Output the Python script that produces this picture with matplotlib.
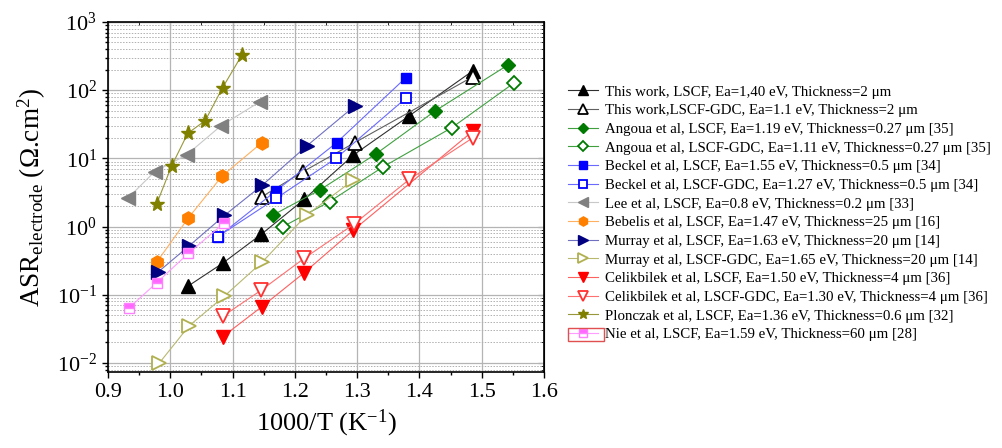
import numpy as np
import matplotlib.pyplot as plt
from matplotlib.ticker import LogLocator, MultipleLocator, NullFormatter
from matplotlib.patches import Rectangle

plt.rcParams['font.family'] = ['Liberation Serif', 'DejaVu Serif']
plt.rcParams['mathtext.fontset'] = 'custom'
plt.rcParams['mathtext.rm'] = 'Liberation Serif'
plt.rcParams['mathtext.it'] = 'Liberation Serif:italic'

# --- data (x = 1000/T in K^-1, y = ASR in ohm.cm2) ---
tw_lscf_x = [1.029, 1.084, 1.146, 1.215, 1.294, 1.384, 1.486]
tw_lscf_y = [0.135, 0.29, 0.77, 2.51, 11.2, 42.3, 193]
tw_gdc_x = [1.147, 1.213, 1.296, 1.486]
tw_gdc_y = [2.74, 6.38, 17.0, 158]
ang_lscf_x = [1.165, 1.240, 1.330, 1.425, 1.542]
ang_lscf_y = [1.48, 3.44, 11.6, 49.5, 234]
ang_gdc_x = [1.181, 1.256, 1.342, 1.452, 1.551]
ang_gdc_y = [1.0, 2.33, 7.55, 28.2, 126]
bec_lscf_x = [1.076, 1.170, 1.267, 1.378]
bec_lscf_y = [0.70, 3.36, 17.0, 152]
bec_gdc_x = [1.076, 1.170, 1.266, 1.378]
bec_gdc_y = [0.71, 2.60, 10.0, 76]
lee_x = [0.932, 0.975, 1.026, 1.081, 1.144]
lee_y = [2.62, 6.4, 11.2, 29.9, 67.8]
beb_x = [0.978, 1.029, 1.083, 1.147]
beb_y = [0.30, 1.34, 5.5, 17.0]
mur_lscf_x = [0.981, 1.030, 1.087, 1.148, 1.219, 1.296]
mur_lscf_y = [0.218, 0.52, 1.46, 4.07, 15.2, 58.6]
mur_gdc_x = [0.982, 1.030, 1.087, 1.148, 1.219, 1.294]
mur_gdc_y = [0.0099, 0.035, 0.096, 0.305, 1.48, 4.82]
cel_lscf_x = [1.084, 1.147, 1.215, 1.294, 1.486]
cel_lscf_y = [0.0243, 0.067, 0.211, 0.89, 25.2]
cel_gdc_x = [1.085, 1.146, 1.215, 1.295, 1.384, 1.486]
cel_gdc_y = [0.049, 0.117, 0.343, 1.09, 4.94, 20.1]
plo_x = [0.978, 1.002, 1.028, 1.056, 1.084, 1.115]
plo_y = [2.14, 7.7, 23.3, 35.7, 109, 328]
nie_x = [0.933, 0.978, 1.029, 1.086]
nie_y = [0.0634, 0.150, 0.405, 1.12]

labels = [
    'This work, LSCF, Ea=1,40 eV, Thickness=2 μm',
    'This work,LSCF-GDC, Ea=1.1 eV, Thickness=2 μm',
    'Angoua et al, LSCF, Ea=1.19 eV, Thickness=0.27 μm [35]',
    'Angoua et al, LSCF-GDC, Ea=1.11 eV, Thickness=0.27 μm [35]',
    'Beckel et al, LSCF, Ea=1.55 eV, Thickness=0.5 μm [34]',
    'Beckel et al, LSCF-GDC, Ea=1.27 eV, Thickness=0.5 μm [34]',
    'Lee et al, LSCF, Ea=0.8 eV, Thickness=0.2 μm [33]',
    'Bebelis et al, LSCF, Ea=1.47 eV, Thickness=25 μm [16]',
    'Murray et al, LSCF, Ea=1.63 eV, Thickness=20 μm [14]',
    'Murray et al, LSCF-GDC, Ea=1.65 eV, Thickness=20 μm [14]',
    'Celikbilek et al, LSCF, Ea=1.50 eV, Thickness=4 μm [36]',
    'Celikbilek et al, LSCF-GDC, Ea=1.30 eV, Thickness=4 μm [36]',
    'Plonczak et al, LSCF, Ea=1.36 eV, Thickness=0.6 μm [32]',
    'Nie et al, LSCF, Ea=1.59 eV, Thickness=60 μm [28]',
]

xs = [tw_lscf_x, tw_gdc_x, ang_lscf_x, ang_gdc_x, bec_lscf_x, bec_gdc_x, lee_x,
      beb_x, mur_lscf_x, mur_gdc_x, cel_lscf_x, cel_gdc_x, plo_x, nie_x]
ys = [tw_lscf_y, tw_gdc_y, ang_lscf_y, ang_gdc_y, bec_lscf_y, bec_gdc_y, lee_y,
      beb_y, mur_lscf_y, mur_gdc_y, cel_lscf_y, cel_gdc_y, plo_y, nie_y]

# marker, marker colour, filled?, line colour, marker size
styles = [
    ('^', '#000000', True, '#303030', 9.5),
    ('^', '#000000', False, '#606060', 9.5),
    ('D', '#007a00', True, '#40a040', 7.5),
    ('D', '#007a00', False, '#40a040', 7.5),
    ('s', '#0000ff', True, '#6a6aff', 7.5),
    ('s', '#0000ff', False, '#6a6aff', 7.5),
    ('<', '#808080', True, '#c8c8c8', 9.5),
    ('h', '#ff8000', True, '#ffb060', 9.5),
    ('>', '#000080', True, '#7070c0', 9.5),
    ('>', '#b0b050', False, '#b8b870', 9.5),
    ('v', '#ff0000', True, '#ff6060', 9.5),
    ('v', '#ff3030', False, '#ff7070', 9.5),
    ('*', '#808000', True, '#98983a', 11),
    ('s', '#ff66ff', True, '#ff9cff', 7.5),
]

fig = plt.figure(figsize=(10.03, 4.48), dpi=100)
ax = fig.add_axes([0.1077, 0.1696, 0.5424 - 0.1077, 0.951 - 0.1696])

for i in range(len(xs)):
    m, mc, filled, lc, ms = styles[i]
    kw = dict(marker=m, markersize=ms, color=lc, lw=0.8, markeredgecolor=mc,
              markeredgewidth=1.0, label=labels[i])
    if i == len(xs) - 1:
        kw.update(markerfacecolor=mc, fillstyle='top', markerfacecoloralt='white',
                  markeredgecolor='#ff80ff')
    elif filled:
        kw.update(markerfacecolor=mc)
    else:
        kw.update(markerfacecolor='white', markeredgewidth=1.3)
    ax.plot(xs[i], ys[i], **kw)

ax.set_yscale('log')
ax.set_xlim(0.9, 1.6)
ax.set_ylim(0.00738, 1000)
ax.xaxis.set_major_locator(MultipleLocator(0.1))
ax.xaxis.set_minor_locator(MultipleLocator(0.05))
ax.yaxis.set_major_locator(LogLocator(base=10, numticks=10))
ax.yaxis.set_minor_locator(LogLocator(base=10, subs=np.arange(2, 10), numticks=20))
ax.yaxis.set_minor_formatter(NullFormatter())

ax.grid(True, which='major', color='#b4b4b4', lw=0.9, ls='-')
ax.grid(True, which='minor', axis='y', color='#b0b0b0', lw=0.7, ls=(0, (1.5, 1.5)))
ax.set_axisbelow(True)

ax.tick_params(which='both', direction='out', labelsize=16, width=1.0)
ax.tick_params(which='major', length=4.5)
ax.tick_params(which='minor', length=2.5)
for s in ax.spines.values():
    s.set_linewidth(1.2)

secx = ax.secondary_xaxis('top')
secx.xaxis.set_major_locator(MultipleLocator(0.1))
secx.xaxis.set_minor_locator(MultipleLocator(0.05))
secx.tick_params(which='both', direction='in', labeltop=False)
secx.tick_params(which='major', length=4.5)
secx.tick_params(which='minor', length=2.5)
secy = ax.secondary_yaxis('right')
secy.yaxis.set_major_locator(LogLocator(base=10, numticks=10))
secy.yaxis.set_minor_locator(LogLocator(base=10, subs=np.arange(2, 10), numticks=20))
secy.yaxis.set_major_formatter(NullFormatter())
secy.yaxis.set_minor_formatter(NullFormatter())
secy.tick_params(which='both', direction='in')
secy.tick_params(which='major', length=4.5)
secy.tick_params(which='minor', length=2.5)

ax.set_xlabel('1000/T (K$^{-1}$)', fontsize=19, labelpad=4)
ax.set_ylabel('ASR$_{\\mathrm{electrode}}$ (Ω.cm$^{2}$)', fontsize=19.5, labelpad=6)

leg = ax.legend(loc='upper left', bbox_to_anchor=(0.566, 0.81),
                bbox_transform=fig.transFigure, frameon=False, fontsize=10.75,
                borderaxespad=0, borderpad=0, handlelength=2.05,
                handletextpad=0.45, labelspacing=0.35, markerscale=0.7,
                numpoints=1)

# red box drawn around the last legend handle in the original
fig.canvas.draw()
r = fig.canvas.get_renderer()
tb = leg.get_texts()[-1].get_window_extent(r)
hb = leg.legend_handles[-1].get_window_extent(r)
x0, x1 = hb.x0 + 4, tb.x0 - 1
y0, y1 = tb.y0, tb.y1
fig.patches.append(Rectangle((x0, y0), x1 - x0, y1 - y0, transform=None,
                             fill=False, edgecolor='#e05050', lw=1.0))

fig.savefig('out.png', dpi=100)
